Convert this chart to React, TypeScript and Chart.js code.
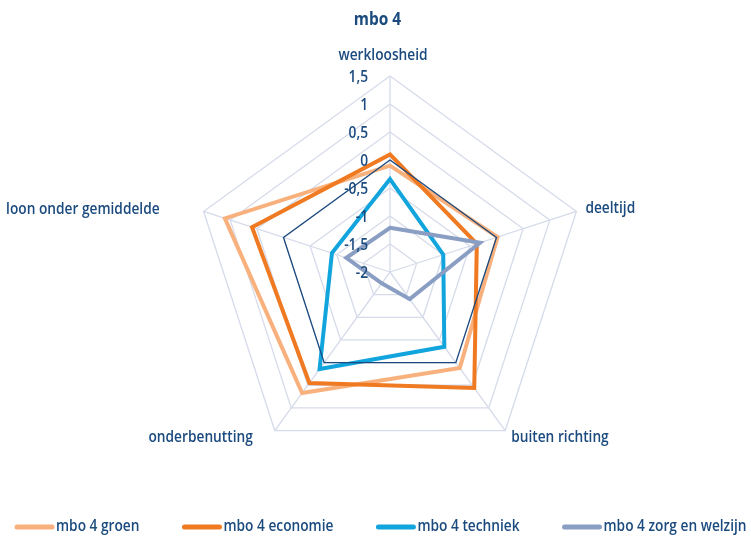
import React, { useEffect, useRef } from "react";
import { Chart, registerables } from "chart.js";

Chart.register(...registerables);

const axisLabels = ["werkloosheid", "deeltijd", "buiten richting", "onderbenutting", "loon onder gemiddelde"];
const groen = [-0.1, 0.02, 0.12, 0.67, 1.1];
const economie = [0.1, -0.37, 0.56, 0.45, 0.59];
const techniek = [-0.34, -1.0, -0.35, 0.14, -0.91];
const zorg = [-1.21, -0.31, -1.4, -1.75, -1.18];
const nulLijn = [0, 0, 0, 0, 0];
const seriesNames = ["mbo 4 groen", "mbo 4 economie", "mbo 4 techniek", "mbo 4 zorg en welzijn"];
const seriesColors = ["#f8b07d", "#f07a22", "#12a5dd", "#8a9dc3"];
const chartTitle = "mbo 4";
const tickMin = -2;
const tickMax = 1.5;
const tickStep = 0.5;

const FONT = '"Open Sans", "DejaVu Sans", sans-serif';
const WEIGHT = "600";
const NAVY = "#1b4a7e";
const GRID = "#d6dbea";

let condense = 0.82;

function calibrate(ctx: CanvasRenderingContext2D) {
  ctx.save();
  ctx.font = `${WEIGHT} 16px ${FONT}`;
  const w = ctx.measureText("mbo 4 zorg en welzijn").width;
  ctx.restore();
  if (w > 0) condense = 143 / w;
}

function drawText(
  ctx: CanvasRenderingContext2D,
  text: string,
  x: number,
  y: number,
  align: "left" | "right" | "center",
  size = 16,
  bold = false
) {
  ctx.save();
  ctx.font = `${bold ? "bold" : WEIGHT} ${size}px ${FONT}`;
  ctx.fillStyle = NAVY;
  ctx.textBaseline = "middle";
  ctx.textAlign = align;
  ctx.translate(x, y);
  ctx.scale(condense, 1);
  ctx.fillText(text, 0, 0);
  ctx.restore();
}

function textWidth(ctx: CanvasRenderingContext2D, text: string, size = 16) {
  ctx.save();
  ctx.font = `${WEIGHT} ${size}px ${FONT}`;
  const w = ctx.measureText(text).width * condense;
  ctx.restore();
  return w;
}

const textPlugin = {
  id: "textLayer",
  afterDatasetsDraw(chart: any) {
    const scale = chart.scales.r;
    const ctx: CanvasRenderingContext2D = chart.ctx;
    calibrate(ctx);
    scale.ticks.forEach((t: any) => {
      const d = scale.getDistanceFromCenterForValue(t.value);
      const txt = String(Math.round(t.value * 10) / 10).replace(".", ",");
      drawText(ctx, txt, scale.xCenter - 22, scale.yCenter - d + 1, "right");
    });
    const R = scale.drawingArea;
    const place: [number, number, "left" | "right" | "center"][] = [
      [-7, -21, "center"],
      [9, -3, "left"],
      [6, 7, "left"],
      [-22, 7, "right"],
      [-44, -2, "right"],
    ];
    chart.data.labels.forEach((lab: string, i: number) => {
      const p = scale.getPointPosition(i, R);
      const [dx, dy, al] = place[i];
      drawText(ctx, lab, p.x + dx, p.y + dy, al);
    });
    drawText(ctx, chartTitle, chart.width / 2 + 2, 20, "center", 18, true);
    let x = 15;
    const y = 527;
    seriesNames.forEach((name, i) => {
      ctx.save();
      ctx.strokeStyle = seriesColors[i];
      ctx.lineWidth = 5;
      ctx.lineCap = "round";
      ctx.beginPath();
      ctx.moveTo(x + 2, y);
      ctx.lineTo(x + 37, y);
      ctx.stroke();
      ctx.restore();
      drawText(ctx, name, x + 41, y - 1, "left");
      x += 41 + textWidth(ctx, name) + 43;
    });
  },
};

export default function App() {
  const ref = useRef<HTMLCanvasElement>(null);
  useEffect(() => {
    if (!ref.current) return;
    const mk = (label: string, data: number[], color: string, width: number) => ({
      label,
      data,
      borderColor: color,
      backgroundColor: color,
      borderWidth: width,
      fill: false,
      pointRadius: 0,
      pointHoverRadius: 0,
    });
    const chart = new Chart(ref.current, {
      type: "radar",
      data: {
        labels: axisLabels,
        datasets: [
          mk("nul", nulLijn, NAVY, 1.3),
          mk(seriesNames[3], zorg, seriesColors[3], 4),
          mk(seriesNames[2], techniek, seriesColors[2], 4),
          mk(seriesNames[1], economie, seriesColors[1], 4),
          mk(seriesNames[0], groen, seriesColors[0], 4),
        ],
      },
      options: {
        animation: false,
        responsive: false,
        layout: { padding: { top: 76, left: 194, right: 165, bottom: 68 } },
        scales: {
          r: {
            min: tickMin,
            max: tickMax,
            ticks: { stepSize: tickStep, display: false },
            grid: { color: GRID, lineWidth: 1.3 },
            angleLines: { color: GRID, lineWidth: 1.3 },
            pointLabels: { display: false },
          },
        },
        plugins: {
          title: { display: false },
          legend: { display: false },
          tooltip: { enabled: false },
        },
      },
      plugins: [textPlugin],
    });
    return () => chart.destroy();
  }, []);
  return (
    <div style={{ position: "fixed", left: 0, top: 0, width: 751, height: 536, background: "#fff" }}>
      <canvas ref={ref} width={751} height={536} style={{ width: 751, height: 536 }} />
    </div>
  );
}
